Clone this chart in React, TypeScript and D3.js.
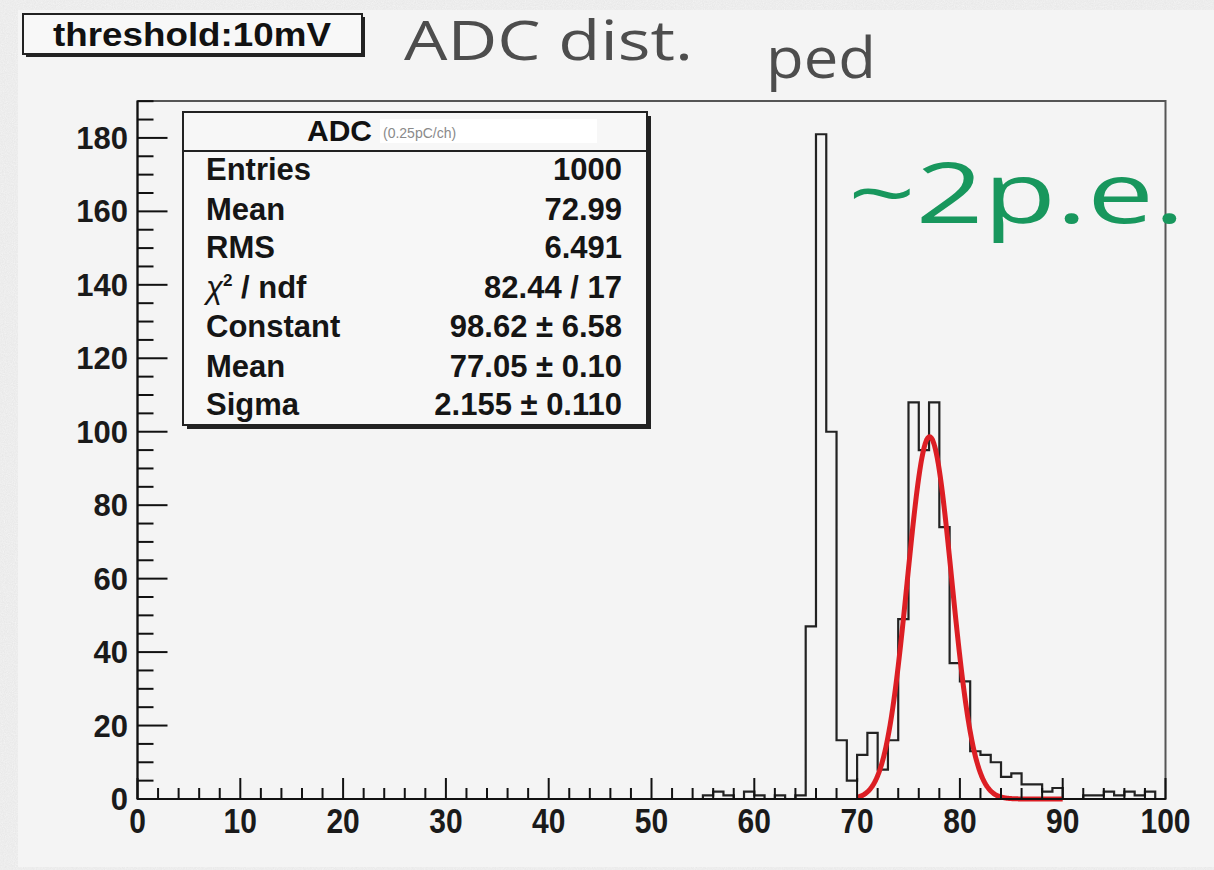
import React from "react";
import * as d3 from "d3";

// ADC spectrum, 1 ch per bin, bins 55..99 (all lower bins are empty)
const firstBin = 55;
const binCounts = [
  1, 2, 1, 0, 2, 1, 0, 1, 0, 1, // 55-64
  47, 181, 100, 16, 5, 12, 18, 8, 16, 49, // 65-74
  108, 95, 108, 74, 37, 32, 13, 12, 10, 6, // 75-84
  7, 4, 4, 2, 3, 0, 0, 1, 1, 2, // 85-94
  1, 2, 1, 2, 0, // 95-99
];

// Gaussian fit to the 2 p.e. peak
const fitConstant = 98.62;
const fitMean = 77.05;
const fitSigma = 2.155;
const fitRange = [70, 90];

const xTicks = [0, 10, 20, 30, 40, 50, 60, 70, 80, 90, 100];
const yTicks = [0, 20, 40, 60, 80, 100, 120, 140, 160, 180];

const statLabels = ["Entries", "Mean", "RMS", "chi2", "Constant", "Mean", "Sigma"];
const statValues = ["1000", "72.99", "6.491", "82.44 / 17", "98.62 \u00b1 6.58", "77.05 \u00b1 0.10", "2.155 \u00b1 0.110"];

const W = 1214;
const H = 870;
const frame = { left: 137.5, right: 1165.5, top: 101, bottom: 799 };
const bold = "'Liberation Sans', Arial, Helvetica, sans-serif";
const soft = "'Open Sans', 'Noto Sans', sans-serif";

export default function App() {
  const x = d3.scaleLinear().domain([0, 100]).range([frame.left, frame.right]);
  const yMax = d3.max(binCounts)! * 1.05;
  const y = d3.scaleLinear().domain([0, yMax]).range([frame.bottom, frame.top]);

  // full 100-bin histogram outline
  const counts = d3.range(100).map((i) =>
    i >= firstBin && i < firstBin + binCounts.length ? binCounts[i - firstBin] : 0
  );
  const stepPts: [number, number][] = counts.map((c, i) => [i, c]);
  stepPts.push([100, counts[99]]);
  const histPath = d3
    .line<[number, number]>()
    .x((d) => x(d[0]))
    .y((d) => y(d[1]))
    .curve(d3.curveStepAfter)(stepPts);

  const fitPts = d3.range(fitRange[0], fitRange[1] + 0.001, 0.05).map((v) => [
    v,
    fitConstant * Math.exp(-0.5 * ((v - fitMean) / fitSigma) ** 2),
  ]) as [number, number][];
  const fitPath = d3
    .line<[number, number]>()
    .x((d) => x(d[0]))
    .y((d) => y(d[1]))
    .curve(d3.curveBasis)(fitPts);

  const xMinor = d3.range(0, 100.01, 2).filter((v) => v % 10 !== 0);
  const yMinor = d3.range(0, yMax, 5).filter((v) => v % 20 !== 0);

  const box = { x0: 183, y0: 112, x1: 647, y1: 425 };
  const rowY = [180, 220, 258, 298, 337, 377, 415];

  return (
    <svg
      width={W}
      height={H}
      viewBox={`0 0 ${W} ${H}`}
      style={{ position: "absolute", left: 0, top: 0, display: "block" }}
    >
      <defs>
        <filter id="grain" x="0" y="0" width="100%" height="100%">
          <feTurbulence type="fractalNoise" baseFrequency="0.9" numOctaves="2" seed="3" />
          <feColorMatrix type="saturate" values="0" />
          <feComponentTransfer>
            <feFuncR type="linear" slope="0.12" intercept="0.84" />
            <feFuncG type="linear" slope="0.12" intercept="0.84" />
            <feFuncB type="linear" slope="0.12" intercept="0.84" />
          </feComponentTransfer>
        </filter>
      </defs>

      {/* outer slide margin and canvas */}
      <rect width={W} height={H} fill="#e6e6e6" />
      <rect width={W} height={H} filter="url(#grain)" />
      <rect x={18} y={10} width={W - 18} height={857} fill="#f4f4f4" />

      {/* title box */}
      <rect x={26} y={17} width={339} height={40} fill="#222" />
      <rect x={23} y={14} width={339} height={40} fill="#f8f8f8" stroke="#222" strokeWidth={2} />
      <text
        x={192}
        y={46}
        textAnchor="middle"
        fontFamily={bold}
        fontWeight="bold"
        fontSize={33}
        fill="#111"
        textLength={278}
        lengthAdjust="spacingAndGlyphs"
      >
        threshold:10mV
      </text>

      <text x={404} y={60} fontFamily={soft} fontSize={55} fill="#4d4d4d" textLength={289} lengthAdjust="spacingAndGlyphs">
        ADC dist.
      </text>
      <text x={766} y={78} fontFamily={soft} fontSize={57} fill="#4d4d4d" textLength={110} lengthAdjust="spacingAndGlyphs">
        ped
      </text>

      {/* frame */}
      <rect
        x={frame.left}
        y={frame.top}
        width={frame.right - frame.left}
        height={frame.bottom - frame.top}
        fill="#f4f4f4"
        stroke="#555"
        strokeWidth={2}
      />

      {/* histogram */}
      <path d={histPath!} fill="none" stroke="#222" strokeWidth={2.2} />

      {/* fit */}
      <path d={fitPath!} fill="none" stroke="#dc1e24" strokeWidth={5} strokeLinejoin="round" />

      {/* axes */}
      <g stroke="#111" strokeWidth={2}>
        <line x1={frame.left} x2={frame.right} y1={frame.bottom} y2={frame.bottom} />
        <line x1={frame.left} x2={frame.left} y1={frame.top} y2={frame.bottom} />
        {xTicks.map((t) => (
          <line key={"xt" + t} x1={x(t)} x2={x(t)} y1={frame.bottom} y2={frame.bottom - 21} />
        ))}
        {xMinor.map((t) => (
          <line key={"xm" + t} x1={x(t)} x2={x(t)} y1={frame.bottom} y2={frame.bottom - 11} />
        ))}
        {yTicks.map((t) => (
          <line key={"yt" + t} x1={frame.left} x2={frame.left + 30} y1={y(t)} y2={y(t)} />
        ))}
        {yMinor.map((t) => (
          <line key={"ym" + t} x1={frame.left} x2={frame.left + 16} y1={y(t)} y2={y(t)} />
        ))}
      </g>
      <g fontFamily={bold} fontWeight="bold" fontSize={30} fill="#1a1a1a">
        {xTicks.map((t) => (
          <text key={"xl" + t} x={x(t)} y={833} textAnchor="middle" transform={`translate(0 ${833}) scale(1 1.15) translate(0 ${-833})`}>
            {t}
          </text>
        ))}
        {yTicks.map((t) => (
          <text key={"yl" + t} x={128} y={y(t) + 11} textAnchor="end" fontSize={31}>
            {t}
          </text>
        ))}
      </g>

      {/* statistics box */}
      <rect x={box.x0 + 4} y={box.y0 + 4} width={box.x1 - box.x0} height={box.y1 - box.y0} fill="#222" />
      <rect x={box.x0} y={box.y0} width={box.x1 - box.x0} height={box.y1 - box.y0} fill="#f7f7f7" stroke="#222" strokeWidth={2} />
      <line x1={box.x0} x2={box.x1} y1={151} y2={151} stroke="#222" strokeWidth={2} />
      <rect x={380} y={119} width={217} height={24} fill="#ffffff" />
      <text x={307} y={141} fontFamily={bold} fontWeight="bold" fontSize={30} fill="#111">
        ADC
      </text>
      <text x={383} y={138} fontFamily={bold} fontSize={14} fill="#8a8a8a">
        (0.25pC/ch)
      </text>
      <g fontFamily={bold} fontWeight="bold" fontSize={31} fill="#151515">
        {statLabels.map((l, i) =>
          l === "chi2" ? (
            <text key={"sl" + i} x={206} y={rowY[i]}>
              <tspan fontStyle="italic" fontWeight="normal">{"\u03c7"}</tspan>
              <tspan dy={-12} fontSize={17}>2</tspan>
              <tspan dy={12}>{" / ndf"}</tspan>
            </text>
          ) : (
            <text key={"sl" + i} x={206} y={rowY[i]}>
              {l}
            </text>
          )
        )}
        {statValues.map((v, i) => (
          <text key={"sv" + i} x={622} y={rowY[i]} textAnchor="end">
            {v}
          </text>
        ))}
      </g>

      {/* annotation */}
      <text x={848} y={223} fontFamily={soft} fontSize={84} fill="#18975d" textLength={337} lengthAdjust="spacingAndGlyphs">
        ~2p.e.
      </text>
    </svg>
  );
}
